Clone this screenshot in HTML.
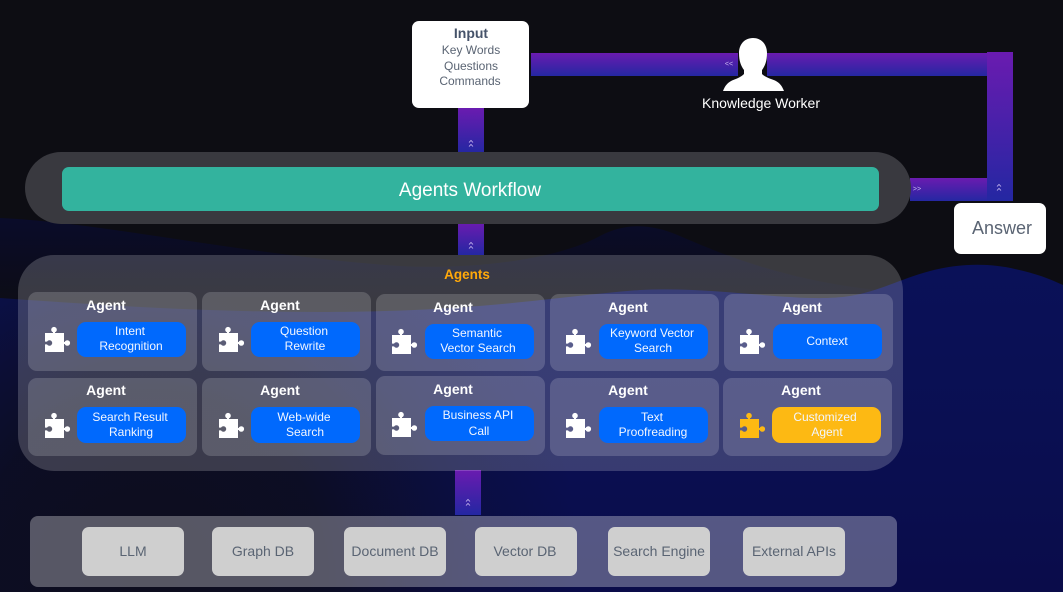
<!DOCTYPE html>
<html><head><meta charset="utf-8"><style>
html,body{margin:0;padding:0;background:#0d0d13;width:1063px;height:592px;overflow:hidden}
svg{display:block}
text{font-family:"Liberation Sans",sans-serif;text-anchor:middle}
.ag{font-size:14px;font-weight:bold;fill:#fff}
.pl{font-size:12px;fill:#f2f6ff}
.db{font-size:14px;fill:#5a6473}
.sm{font-size:12px;fill:#5a6473}
.ch{font-size:7px;fill:#c9b8f0}
</style></head><body>
<svg width="1063" height="592" viewBox="0 0 1063 592" xmlns="http://www.w3.org/2000/svg">
<defs>
<linearGradient id="bar" x1="0" y1="0" x2="0" y2="1"><stop offset="0" stop-color="#6a1bb0"/><stop offset="1" stop-color="#2427a2"/></linearGradient>
<linearGradient id="w1" gradientUnits="userSpaceOnUse" x1="0" y1="218" x2="0" y2="300"><stop offset="0" stop-color="#0a0c2a"/><stop offset=".5" stop-color="#0b0c20"/><stop offset="1" stop-color="#0d0d16"/></linearGradient>
<linearGradient id="w2" gradientUnits="userSpaceOnUse" x1="0" y1="265" x2="0" y2="592"><stop offset="0" stop-color="#0a1158"/><stop offset=".5" stop-color="#0a0f52"/><stop offset="1" stop-color="#0a0c4a"/></linearGradient>
<radialGradient id="dk" gradientUnits="userSpaceOnUse" cx="150" cy="570" r="430"><stop offset="0" stop-color="#0d0d1c" stop-opacity=".97"/><stop offset=".4" stop-color="#0d0d1c" stop-opacity=".85"/><stop offset=".75" stop-color="#0d0d1c" stop-opacity=".25"/><stop offset="1" stop-color="#0d0d1c" stop-opacity="0"/></radialGradient>
<g id="pz"><path fill-rule="evenodd" d="M0 6H8V4H10V6H19V15H21V17H19V25H0V17.400H2A2.800 2.800 0 1 0 2 14.600H0Z"/><circle cx="9" cy="2.700" r="2.800"/><circle cx="22.300" cy="16" r="2.800"/></g>
<g id="up" fill="none" stroke="#c9b8f0" stroke-width=".8"><path d="M-2 -1.500L0 -3.500L2 -1.500M-2 2.500L0 .5L2 2.500"/></g>
</defs>
<rect width="1063" height="592" fill="#0d0d13"/>
<path d="M0 218C100 222 250 256 400 266C480 270 560 258 600 236C625 223 650 223 680 236C730 258 800 285 900 292V320H0Z" fill="url(#w1)"/>
<path d="M0 298C100 305 200 312 320 312C480 312 560 296 640 290C720 286 800 304 850 296C880 291 900 279 930 271C960 263 990 263 1015 269C1035 273 1050 279 1063 285V592H0Z" fill="url(#w2)"/>
<rect y="290" width="1063" height="302" fill="url(#dk)"/>

<!-- connectors -->
<rect x="531" y="53" width="207" height="23" fill="url(#bar)"/>
<rect x="767" y="53" width="221" height="23" fill="url(#bar)"/>
<rect x="910" y="178" width="78" height="23" fill="url(#bar)"/>
<rect x="987" y="52" width="26" height="149" fill="url(#bar)"/>
<rect x="458" y="108" width="26" height="45" fill="url(#bar)"/>
<rect x="458" y="223" width="26" height="32" fill="url(#bar)"/>
<rect x="455" y="470" width="26" height="45" fill="url(#bar)"/>
<text class="ch" x="729" y="66">&lt;&lt;</text>
<text class="ch" x="917" y="191">&gt;&gt;</text>
<use href="#up" x="471" y="144"/>
<use href="#up" x="471" y="246"/>
<use href="#up" x="468" y="503"/>
<use href="#up" x="999" y="188"/>

<!-- input -->
<rect x="412" y="21" width="117" height="87" rx="7" fill="#fff"/>
<text x="471" y="38" font-size="14" font-weight="bold" fill="#46536a">Input</text>
<text class="sm" x="471" y="54">Key Words</text>
<text class="sm" x="471" y="70">Questions</text>
<text class="sm" x="470" y="85">Commands</text>

<!-- worker -->
<path d="M753 38C762 38 767 45 767 53C767 61 765 66 762 70L762 74C765 77 771 79 775 80.500C780 83 782 86 784 91H723C725 86 727 83 732 80.500C736 79 741 77 744 74L744 70C741 66 739 61 739 53C739 45 744 38 753 38Z" fill="#fff"/>
<text x="761" y="108" font-size="14" fill="#fff">Knowledge Worker</text>

<!-- answer -->
<rect x="954" y="203" width="92" height="51" rx="7" fill="#fff"/>
<text x="1002" y="234" font-size="18" fill="#5a6473">Answer</text>

<!-- workflow -->
<rect x="25" y="152" width="886" height="72" rx="36" fill="#39393f"/>
<rect x="62" y="167" width="817" height="44" rx="7" fill="#33b39e"/>
<text x="470" y="196" font-size="19" fill="#fff">Agents Workflow</text>

<!-- agents -->
<rect x="18" y="255" width="885" height="216" rx="36" fill="#fff" fill-opacity=".19"/>
<text x="467" y="279" font-size="13.500" font-weight="bold" fill="#ffa90a">Agents</text>

<g fill="#fff" fill-opacity=".17">
<rect x="28" y="292" width="169" height="79" rx="9"/>
<rect x="202" y="292" width="169" height="79" rx="9"/>
<rect x="376" y="294" width="169" height="77" rx="9"/>
<rect x="550" y="294" width="169" height="77" rx="9"/>
<rect x="724" y="294" width="169" height="77" rx="9"/>
<rect x="28" y="378" width="169" height="78" rx="9"/>
<rect x="202" y="378" width="169" height="78" rx="9"/>
<rect x="376" y="376" width="169" height="79" rx="9"/>
<rect x="550" y="378" width="169" height="78" rx="9"/>
<rect x="723" y="378" width="169" height="78" rx="9"/>
</g>

<text class="ag" x="106" y="310">Agent</text>
<text class="ag" x="280" y="310">Agent</text>
<text class="ag" x="453" y="312">Agent</text>
<text class="ag" x="628" y="312">Agent</text>
<text class="ag" x="802" y="312">Agent</text>
<text class="ag" x="106" y="395">Agent</text>
<text class="ag" x="280" y="395">Agent</text>
<text class="ag" x="453" y="394">Agent</text>
<text class="ag" x="628" y="395">Agent</text>
<text class="ag" x="801" y="395">Agent</text>

<g fill="#fff">
<use href="#pz" x="45" y="327"/>
<use href="#pz" x="219" y="327"/>
<use href="#pz" x="392" y="329"/>
<use href="#pz" x="566" y="329"/>
<use href="#pz" x="740" y="329"/>
<use href="#pz" x="45" y="413"/>
<use href="#pz" x="219" y="413"/>
<use href="#pz" x="392" y="412"/>
<use href="#pz" x="566" y="413"/>
</g>
<use href="#pz" x="740" y="413" fill="#fdb913"/>

<g fill="#0069fd">
<rect x="77" y="322" width="109" height="35" rx="9"/>
<rect x="251" y="322" width="109" height="35" rx="9"/>
<rect x="425" y="324" width="109" height="35" rx="9"/>
<rect x="599" y="324" width="109" height="35" rx="9"/>
<rect x="773" y="324" width="109" height="35" rx="9"/>
<rect x="77" y="407" width="109" height="36" rx="9"/>
<rect x="251" y="407" width="109" height="36" rx="9"/>
<rect x="425" y="406" width="109" height="35" rx="9"/>
<rect x="599" y="407" width="109" height="36" rx="9"/>
</g>
<rect x="772" y="407" width="109" height="36" rx="9" fill="#fdb913"/>

<text class="pl" x="130" y="335">Intent</text><text class="pl" x="131" y="350">Recognition</text>
<text class="pl" x="304" y="335">Question</text><text class="pl" x="305" y="350">Rewrite</text>
<text class="pl" x="477" y="337">Semantic</text><text class="pl" x="478" y="352">Vector Search</text>
<text class="pl" x="652" y="337">Keyword Vector</text><text class="pl" x="653" y="352">Search</text>
<text class="pl" x="827" y="345">Context</text>
<text class="pl" x="130" y="421">Search Result</text><text class="pl" x="131" y="436">Ranking</text>
<text class="pl" x="304" y="421">Web-wide</text><text class="pl" x="305" y="436">Search</text>
<text class="pl" x="478" y="419">Business API</text><text class="pl" x="479" y="435">Call</text>
<text class="pl" x="652" y="421">Text</text><text class="pl" x="653" y="436">Proofreading</text>
<text class="pl" x="825" y="421">Customized</text><text class="pl" x="827" y="436">Agent</text>

<!-- bottom -->
<rect x="30" y="516" width="867" height="71" rx="8" fill="#fff" fill-opacity=".31"/>
<g fill="#cfcfcf">
<rect x="82" y="527" width="102" height="49" rx="7"/>
<rect x="212" y="527" width="102" height="49" rx="7"/>
<rect x="344" y="527" width="102" height="49" rx="7"/>
<rect x="475" y="527" width="102" height="49" rx="7"/>
<rect x="608" y="527" width="102" height="49" rx="7"/>
<rect x="743" y="527" width="102" height="49" rx="7"/>
</g>
<text class="db" x="133" y="556">LLM</text>
<text class="db" x="263" y="556">Graph DB</text>
<text class="db" x="395" y="556">Document DB</text>
<text class="db" x="525" y="556">Vector DB</text>
<text class="db" x="659" y="556">Search Engine</text>
<text class="db" x="794" y="556">External APIs</text>
</svg>
</body></html>
